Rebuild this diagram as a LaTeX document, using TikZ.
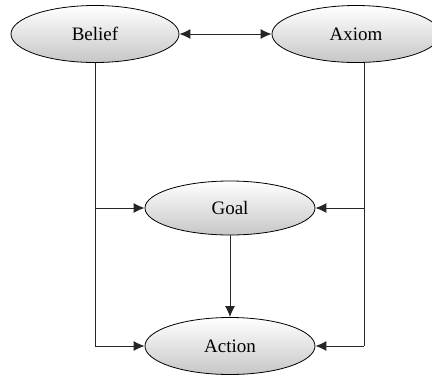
\documentclass[tikz,border=0pt]{standalone}
\usepackage{fontspec}
\setmainfont{Liberation Serif}
\usetikzlibrary{shapes.geometric,arrows.meta,calc}
\begin{document}
\begin{tikzpicture}[x=1pt,y=-1pt,
  concept/.style={ellipse,draw=black,line width=0.8pt,top color=white,bottom color=black!22,
    minimum width=168pt,minimum height=57pt,inner sep=0pt,font=\fontsize{19}{22}\selectfont},
  link/.style={draw=black!85,line width=1pt},
  head/.tip={Latex[length=11pt,width=10pt]},
  tip/.style={-head}]
\useasboundingbox (0,0) rectangle (432,376);
\node[concept] (belief) at (95,34) {Belief};
\node[concept] (axiom)  at (356,34) {Axiom};
\node[concept,minimum width=170pt,minimum height=54pt] (goal) at (230,208) {Goal};
\node[concept,minimum width=170pt] (action) at (230,346) {Action};
% mutual link between belief and axiom
\draw[link,head-head] (belief.east) -- (axiom.west);
% left trunk from belief
\coordinate (lgoal) at (belief.south |- goal.west);
\coordinate (lact) at (belief.south |- action.west);
\draw[link] (belief.south) -- (lact);
\draw[link,tip] (lgoal) -- (goal.west);
\draw[link,tip] (lact) -- (action.west);
% right trunk from axiom
\coordinate (atop) at ([xshift=8pt]axiom.south);
\coordinate (rgoal) at (atop |- goal.east);
\coordinate (ract) at (atop |- action.east);
\draw[link] (atop) -- (ract);
\draw[link,tip] (rgoal) -- (goal.east);
\draw[link,tip] (ract) -- (action.east);
% goal feeds action
\draw[link,tip] (goal.south) -- (action.north);
\end{tikzpicture}
\end{document}
